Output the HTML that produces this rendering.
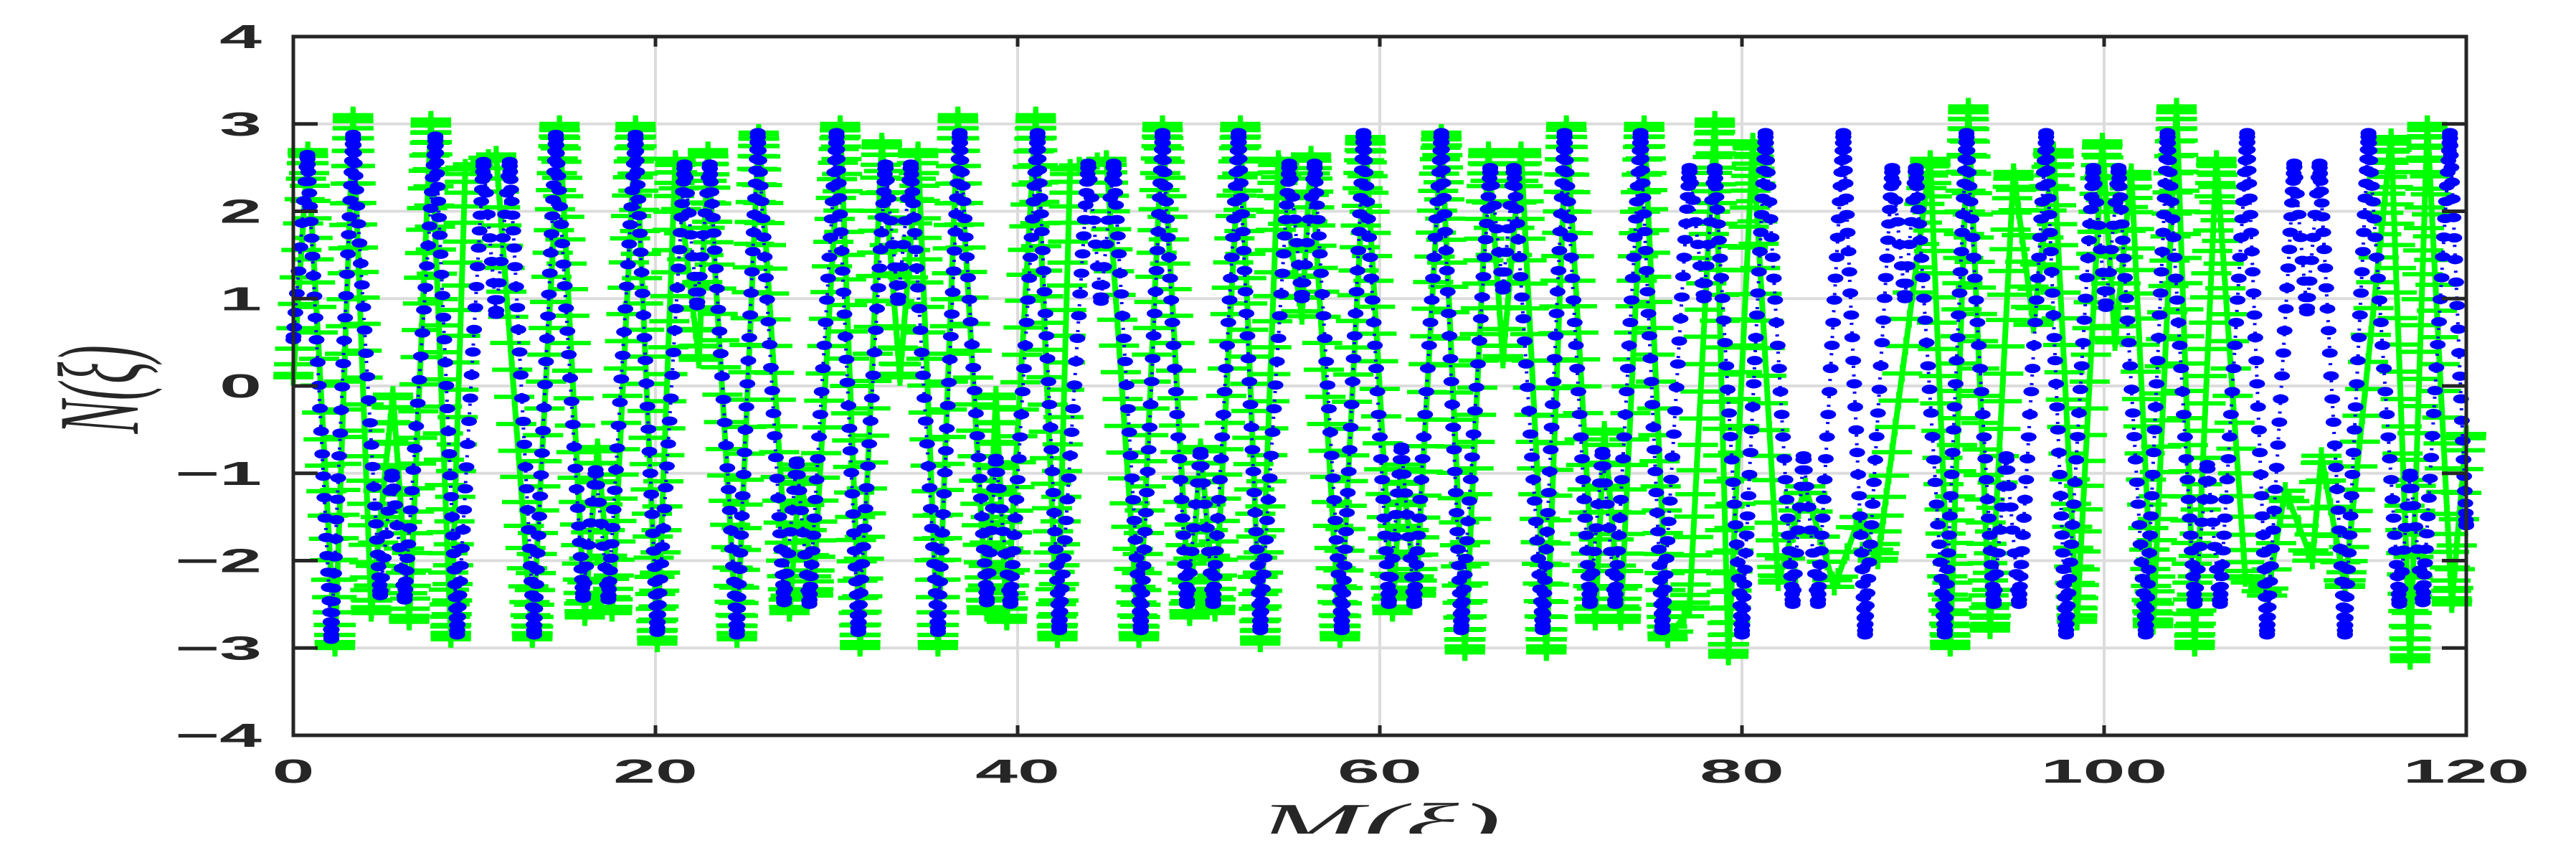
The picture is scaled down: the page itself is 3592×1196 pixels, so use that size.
<!DOCTYPE html>
<html><head><meta charset="utf-8"><style>
html,body{margin:0;padding:0;background:#fff;}
svg{display:block;}
</style></head><body>
<svg id="chart" width="3592" height="1196" viewBox="0 0 3592 1196" xmlns="http://www.w3.org/2000/svg">
<rect x="0" y="0" width="3592" height="1196" fill="#fff"/>
<g id="grid"></g>
<g id="series"></g>
<g id="axes"></g>
</svg>
<script>
const xTicks = [0, 20, 40, 60, 80, 100, 120];
const yTicks = [-4, -3, -2, -1, 0, 1, 2, 3, 4];
const yTickLabels = ["\u22124", "\u22123", "\u22122", "\u22121", "0", "1", "2", "3", "4"];
const blueX = [0,0.78,2.1,3.3,4.8,5.45,6.15,7.85,9.05,10.5,11.2,11.95,13.3,14.5,16.0,16.7,17.4,18.9,20.1,21.6,22.3,23.0,24.5,25.65,27.1,27.8,28.5,30.0,31.2,32.7,33.4,34.1,35.6,36.8,38.3,38.8,39.6,41.1,42.3,43.9,44.6,45.3,46.8,48.0,49.35,50.1,50.8,52.2,53.4,55.0,55.7,56.4,57.9,59.1,60.5,61.2,61.9,63.4,64.5,66.1,66.8,67.4,69.0,70.2,71.6,72.3,73.0,74.4,75.6,77.1,77.9,78.5,80.0,81.3,82.8,83.4,84.2,85.6,86.8,88.3,89.0,89.6,91.2,92.4,93.9,94.6,95.3,96.8,97.9,99.4,100.1,100.8,102.3,103.5,105.0,105.7,106.4,107.9,109.0,110.5,111.2,111.9,113.3,114.6,116.3,116.9,117.6,119.1,120.0];
const blueY = [0.53,2.65,-2.9,2.88,-2.4,-1.0,-2.45,2.86,-2.85,2.57,0.82,2.57,-2.85,2.88,-2.43,-0.96,-2.45,2.88,-2.82,2.54,0.92,2.54,-2.85,2.9,-2.48,-0.86,-2.5,2.9,-2.82,2.54,0.97,2.54,-2.82,2.9,-2.48,-0.83,-2.5,2.9,-2.8,2.55,0.97,2.55,-2.8,2.9,-2.5,-0.75,-2.5,2.9,-2.8,2.55,1.0,2.55,-2.8,2.9,-2.5,-0.7,-2.5,2.9,-2.8,2.5,1.1,2.5,-2.8,2.9,-2.5,-0.75,-2.5,2.9,-2.8,2.5,1.0,2.5,-2.85,2.9,-2.5,-0.8,-2.5,2.9,-2.85,2.5,1.0,2.5,-2.85,2.9,-2.5,-0.8,-2.5,2.9,-2.85,2.5,0.9,2.5,-2.85,2.9,-2.5,-0.9,-2.5,2.9,-2.85,2.55,0.85,2.55,-2.85,2.9,-2.5,-1.0,-2.48,2.9,-1.6];
const greenX = [0,0.8,2.3,3.3,4.3,5.5,6.4,7.6,8.7,9.5,11.2,13.2,14.7,16.1,16.8,17.6,18.9,20.1,21.1,22.4,22.9,24.5,25.7,27.4,28.0,28.7,30.2,31.3,32.5,33.5,34.5,35.6,36.7,38.3,38.8,39.4,41.0,42.2,42.9,44.9,46.7,48.0,49.5,50.1,50.9,52.3,53.4,54.4,55.7,56.2,57.8,59.2,60.7,61.2,62.0,63.4,64.7,66.0,66.8,67.8,69.2,70.3,71.9,72.4,73.3,74.6,75.9,77.1,78.5,79.25,80.6,82.0,83.5,85.1,86.5,87.5,90.4,91.5,92.5,93.7,95.0,96.1,97.2,98.5,99.9,100.6,101.5,102.7,104.0,105.0,106.2,107.8,109.0,110.0,111.5,112.0,113.3,115.85,116.9,117.85,119.2,120.0];
const greenY = [0.1,2.7,-3.0,3.1,-2.6,-0.1,-2.7,3.05,-2.9,2.5,2.65,-2.9,3.0,-2.65,-0.7,-2.6,3.0,-2.95,2.6,0.3,2.7,-2.9,2.9,-2.6,-0.9,-2.4,3.0,-3.0,2.8,0.1,2.7,-3.0,3.1,-2.6,-0.1,-2.7,3.1,-2.9,2.5,2.6,-2.9,3.0,-2.65,-0.7,-2.6,3.0,-2.95,2.6,0.8,2.65,-2.9,2.85,-2.6,-0.9,-2.4,2.9,-3.05,2.7,0.3,2.7,-3.05,3.0,-2.7,-0.5,-2.7,3.0,-2.9,-2.55,3.05,-3.1,2.8,-2.25,-1.15,-2.3,-1.5,-2.0,2.6,-3.0,3.2,-2.8,2.45,0.7,2.7,-2.7,2.8,0.5,2.45,-2.75,3.2,-3.0,2.6,-2.2,-2.4,-1.2,-2.0,-0.8,-2.3,2.85,-3.15,3.0,-2.5,-0.55];

const NS = "http://www.w3.org/2000/svg";
const X0 = 409, X1 = 3439, Y0 = 51, Y1 = 1025;
function sx(v){ return X0 + (v - 0) / 120 * (X1 - X0); }
function sy(v){ return Y1 - (v + 4) / 8 * (Y1 - Y0); }
function mk(tag, attrs, parent){
  const e = document.createElementNS(NS, tag);
  for (const k in attrs) e.setAttribute(k, attrs[k]);
  parent.appendChild(e);
  return e;
}
const grid = document.getElementById('grid');
const series = document.getElementById('series');
const axes = document.getElementById('axes');

xTicks.forEach(v => {
  const l = mk('line', {x1: sx(v), x2: sx(v), y1: Y0, y2: Y1, stroke: '#dcdcdc', 'stroke-width': 4}, grid);
  
  
});
yTicks.forEach(v => {
  const l = mk('line', {x1: X0, x2: X1, y1: sy(v), y2: sy(v), stroke: '#dcdcdc', 'stroke-width': 4}, grid);
  
  
});

function samples(xs, ys, step){
  const pts = [];
  for (let i = 0; i < xs.length - 1; i++){
    const dy = Math.abs(ys[i+1] - ys[i]);
    const n = Math.max(3, Math.round(dy / step));
    for (let k = 0; k < n; k++){
      const t = (1 - Math.cos(Math.PI * k / n)) / 2;
      pts.push([xs[i] + (xs[i+1] - xs[i]) * t, ys[i] + (ys[i+1] - ys[i]) * t]);
    }
  }
  pts.push([xs[xs.length-1], ys[ys.length-1]]);
  return pts;
}

const gPts = samples(greenX, greenY, 0.2);
const gLine = mk('polyline', {points: gPts.map(p => sx(p[0]) + ',' + sy(p[1])).join(' '), fill: 'none', stroke: '#00ff00', 'stroke-width': 8, 'stroke-linejoin': 'round'}, series);


const gMarks = mk('g', {fill: '#00ff00'}, series);


gPts.forEach(p => {
  const cx = sx(p[0]), cy = sy(p[1]);
  mk('rect', {x: cx - 28, y: cy - 3, width: 56, height: 6}, gMarks);
  mk('rect', {x: cx - 3.5, y: cy - 12, width: 7, height: 24}, gMarks);
});

const bPts = samples(blueX, blueY, 0.17);
const bLine = mk('polyline', {points: bPts.map(p => sx(p[0]) + ',' + sy(p[1])).join(' '), fill: 'none', stroke: '#0000ff', 'stroke-width': 5, 'stroke-dasharray': '3 9'}, series);


const bMarks = mk('g', {fill: '#0000ff'}, series);


bPts.forEach(p => {
  mk('ellipse', {cx: sx(p[0]), cy: sy(p[1]), rx: 11, ry: 6.5}, bMarks);
});

const box = mk('rect', {x: X0, y: Y0, width: X1 - X0, height: Y1 - Y0, fill: 'none', stroke: '#262626', 'stroke-width': 5}, axes);


xTicks.forEach(v => {
  mk('line', {x1: sx(v), x2: sx(v), y1: Y1, y2: Y1 - 14, stroke: '#262626', 'stroke-width': 5}, axes);
  mk('line', {x1: sx(v), x2: sx(v), y1: Y0, y2: Y0 + 14, stroke: '#262626', 'stroke-width': 5}, axes);
  const t = mk('text', {transform: 'translate(' + sx(v) + ',1091) scale(2.3,1)', 'text-anchor': 'middle', 'font-family': 'Liberation Sans, sans-serif', 'font-weight': 'bold', 'font-size': 46, fill: '#262626'}, axes);
  t.textContent = String(v);
  
  
});
yTicks.forEach((v, i) => {
  mk('line', {x1: X0, x2: X0 + 34, y1: sy(v), y2: sy(v), stroke: '#262626', 'stroke-width': 5}, axes);
  mk('line', {x1: X1, x2: X1 - 34, y1: sy(v), y2: sy(v), stroke: '#262626', 'stroke-width': 5}, axes);
  const t = mk('text', {transform: 'translate(365,' + (sy(v) + 16) + ') scale(2.3,1)', 'text-anchor': 'end', 'font-family': 'Liberation Sans, sans-serif', 'font-weight': 'bold', 'font-size': 46, fill: '#262626'}, axes);
  t.textContent = yTickLabels[i];
  
  
});
</script>
<svg style="position:absolute;left:0;top:0" width="3592" height="1196">
<text transform="translate(192,543) rotate(-90) scale(1,2.3)" text-anchor="middle" font-family="Liberation Serif, serif" font-style="italic" font-size="70" fill="#262626">N(ξ)</text>
<text transform="translate(1924,1172) scale(2.3,1)" text-anchor="middle" font-family="Liberation Serif, serif" font-style="italic" font-size="76" fill="#262626">M(ξ)</text>
<rect x="0" y="1162" width="3592" height="40" fill="#fff"/>
</svg>
</body></html>
